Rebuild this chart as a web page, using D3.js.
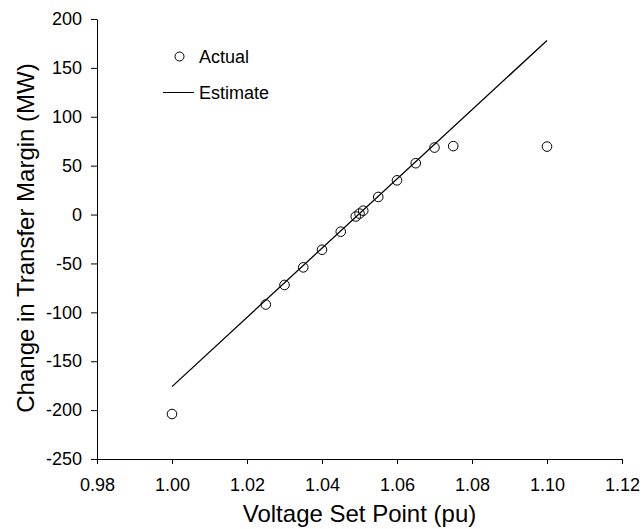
<!DOCTYPE html>
<html>
<head>
<meta charset="utf-8">
<script src="https://cdn.jsdelivr.net/npm/d3@7"></script>
<style>
  body { margin: 0; background: #fff; }
  text { font-family: Arial, "Liberation Sans", sans-serif; fill: #000; }
</style>
</head>
<body>
<script>
// Data
const actualX = [1.000, 1.025, 1.030, 1.035, 1.040, 1.045, 1.049, 1.050, 1.051, 1.055, 1.060, 1.065, 1.070, 1.075, 1.100];
const actualY = [-204, -92, -72, -54, -36, -17.5, -2, 1, 4, 18, 35, 52.5, 68.5, 70, 69.5];
const estimateX = [1.00, 1.10];
const estimateY = [-176, 178];
const xTicks = [0.98, 1.00, 1.02, 1.04, 1.06, 1.08, 1.10, 1.12];
const yTicks = [-250, -200, -150, -100, -50, 0, 50, 100, 150, 200];
const legendLabels = ["Actual", "Estimate"];

const W = 642, H = 529;
const m = {left: 97, right: 20, top: 19, bottom: 70};

const svg = d3.select("body").append("svg").attr("width", W).attr("height", H);

const x = d3.scaleLinear().domain([0.98, 1.12]).range([m.left, W - m.right]);
const y = d3.scaleLinear().domain([-250, 200]).range([H - m.bottom, m.top]);

const xAxis = svg.append("g").attr("transform", `translate(0,${H - m.bottom})`)
  .call(d3.axisBottom(x).tickValues(xTicks).tickFormat(d => d.toFixed(2)).tickSize(5).tickSizeOuter(0).tickPadding(14));
const yAxis = svg.append("g").attr("transform", `translate(${m.left},0)`)
  .call(d3.axisLeft(y).tickValues(yTicks).tickFormat(d => String(d)).tickSize(6).tickSizeOuter(0).tickPadding(9));

[xAxis, yAxis].forEach(g => {
  g.selectAll("path.domain").attr("stroke", "#000").attr("stroke-width", 1);
  g.selectAll(".tick line").attr("stroke", "#000").attr("stroke-width", 1);
  g.selectAll(".tick text").style("font-family", "Arial, 'Liberation Sans', sans-serif").style("font-size", "18px").attr("fill", "#000");
});

// Estimate line
const line = d3.line().x(d => x(d[0])).y(d => y(d[1]));
svg.append("path")
  .datum(estimateX.map((v, i) => [v, estimateY[i]]))
  .attr("d", line).attr("fill", "none").attr("stroke", "#000").attr("stroke-width", 1.3);

// Actual points
svg.append("g").selectAll("circle")
  .data(actualX.map((v, i) => [v, actualY[i]]))
  .join("circle")
  .attr("cx", d => x(d[0])).attr("cy", d => y(d[1])).attr("r", 4.8)
  .attr("fill", "none").attr("stroke", "#000").attr("stroke-width", 1);

// Legend
const lg = svg.append("g");
lg.append("circle").attr("cx", 179.5).attr("cy", 56.5).attr("r", 4.5)
  .attr("fill", "none").attr("stroke", "#000").attr("stroke-width", 1);
lg.append("text").attr("x", 199).attr("y", 63).style("font-size", "18px").text(legendLabels[0]);
lg.append("line").attr("x1", 163).attr("x2", 194).attr("y1", 92.5).attr("y2", 92.5)
  .attr("stroke", "#000").attr("stroke-width", 1);
lg.append("text").attr("x", 199).attr("y", 99).style("font-size", "18px").text(legendLabels[1]);

// Axis titles
svg.append("text").attr("x", (m.left + W - m.right) / 2).attr("y", 522)
  .attr("text-anchor", "middle").style("font-size", "24px").text("Voltage Set Point (pu)");
svg.append("text").attr("transform", `translate(34,${(m.top + H - m.bottom) / 2 - 1}) rotate(-90)`)
  .attr("text-anchor", "middle").style("font-size", "24px").text("Change in Transfer Margin (MW)");
</script>
</body>
</html>
